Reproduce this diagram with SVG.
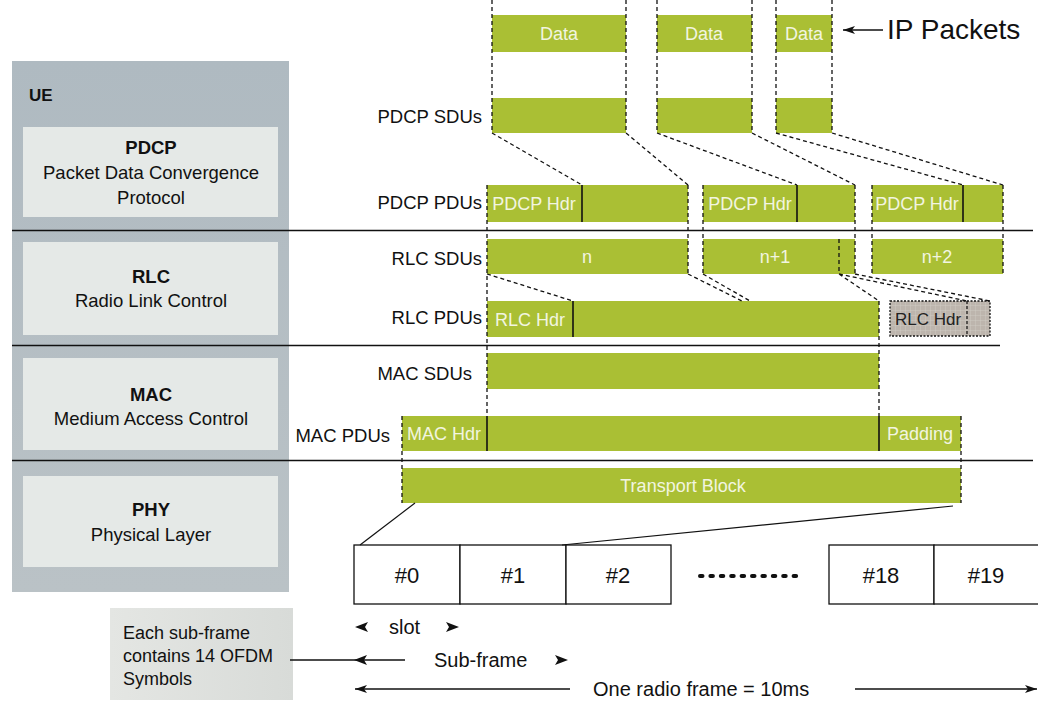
<svg xmlns="http://www.w3.org/2000/svg" width="1038" height="704" viewBox="0 0 1038 704">
<defs>
<linearGradient id="panelGrad" x1="0" y1="0" x2="0" y2="1"><stop offset="0" stop-color="#AFBAC1"/><stop offset="1" stop-color="#BAC2C6"/></linearGradient>
<linearGradient id="noteGrad" x1="0" y1="0" x2="1" y2="0"><stop offset="0" stop-color="#E4E6E3"/><stop offset="1" stop-color="#D8DBD8"/></linearGradient>
<pattern id="grid" width="5" height="5" patternUnits="userSpaceOnUse"><rect width="5" height="5" fill="#BDB5AD"/><path d="M0 0H5M0 0V5" stroke="#D3CDC6" stroke-width="0.8"/></pattern>
<marker id="ah" viewBox="0 0 12 8" refX="12" refY="4" markerWidth="12" markerHeight="8" orient="auto-start-reverse" markerUnits="userSpaceOnUse"><path d="M0,0 L12,4 L0,8 L3,4 z" fill="#111"/></marker>
</defs>
<style>
.g{fill:#AABF34}
.wt{font-family:"Liberation Sans",Arial,sans-serif;font-size:18px;fill:#F2F5E0;text-anchor:middle}
.lbl{font-family:"Liberation Sans",Arial,sans-serif;font-size:18.5px;fill:#111;text-anchor:end}
.ptxt{font-family:"Liberation Sans",Arial,sans-serif;font-size:18.5px;fill:#111;text-anchor:middle}
.pb{font-weight:bold}
.dash{stroke:#111;stroke-width:1.3;stroke-dasharray:4 3;fill:none}
.sep{stroke:#111;stroke-width:1.5}
.div{stroke:#111;stroke-width:1.6}
.inner{fill:#E5E9E7}
.slot{fill:#fff;stroke:#111;stroke-width:1.3}
.stxt{font-family:"Liberation Sans",Arial,sans-serif;font-size:22px;fill:#111;text-anchor:middle}
.btxt{font-family:"Liberation Sans",Arial,sans-serif;font-size:20px;fill:#111}
.arr{stroke:#111;stroke-width:1.3;fill:none}
</style>
<rect width="1038" height="704" fill="#fff"/>

<g id="ue-panel">
<rect x="12" y="61" width="277" height="531" fill="url(#panelGrad)"/>
<text x="29" y="101" font-family="'Liberation Sans',Arial,sans-serif" font-size="17" font-weight="bold" fill="#111">UE</text>
</g>
<g id="pdcp-layer">
<rect class="inner" x="23" y="127" width="255" height="90"/>
<text class="ptxt pb" x="151" y="154">PDCP</text>
<text class="ptxt" x="151" y="179">Packet Data Convergence</text>
<text class="ptxt" x="151" y="204">Protocol</text>
</g>
<g id="rlc-layer">
<rect class="inner" x="23" y="242" width="255" height="93"/>
<text class="ptxt pb" x="151" y="283">RLC</text>
<text class="ptxt" x="151" y="307">Radio Link Control</text>
</g>
<g id="mac-layer">
<rect class="inner" x="23" y="358" width="255" height="92"/>
<text class="ptxt pb" x="151" y="401">MAC</text>
<text class="ptxt" x="151" y="425">Medium Access Control</text>
</g>
<g id="phy-layer">
<rect class="inner" x="23" y="476" width="255" height="91"/>
<text class="ptxt pb" x="151" y="516">PHY</text>
<text class="ptxt" x="151" y="541">Physical Layer</text>
</g>

<g id="layer-separators">
<line class="sep" x1="12" y1="230.5" x2="1033" y2="230.5"/>
<line class="sep" x1="12" y1="345.5" x2="1000" y2="345.5"/>
<line class="sep" x1="12" y1="460.5" x2="1033" y2="460.5"/>
</g>

<g id="ip-packets">
<rect class="g" x="492" y="15" width="134" height="37"/>
<rect class="g" x="657" y="15" width="95" height="37"/>
<rect class="g" x="776" y="15" width="56" height="37"/>
<text class="wt" x="559" y="40">Data</text>
<text class="wt" x="704" y="40">Data</text>
<text class="wt" x="804" y="40">Data</text>
<line class="arr" x1="883" y1="30" x2="843" y2="30" marker-end="url(#ah)"/>
<text x="887" y="39" font-family="'Liberation Sans',Arial,sans-serif" font-size="28" fill="#111">IP Packets</text>
</g>

<g id="pdcp-sdus">
<text class="lbl" x="482" y="123">PDCP SDUs</text>
<rect class="g" x="492" y="98" width="134" height="35"/>
<rect class="g" x="657" y="98" width="95" height="35"/>
<rect class="g" x="776" y="98" width="56" height="35"/>
</g>

<g id="pdcp-pdus">
<text class="lbl" x="482" y="209">PDCP PDUs</text>
<rect class="g" x="487" y="185" width="201" height="37"/>
<rect class="g" x="703" y="185" width="152" height="37"/>
<rect class="g" x="872" y="185" width="131" height="37"/>
<line class="div" x1="582" y1="185" x2="582" y2="222"/>
<line class="div" x1="797" y1="185" x2="797" y2="222"/>
<line class="div" x1="963" y1="185" x2="963" y2="222"/>
<text class="wt" x="534" y="210" font-size="17.5">PDCP Hdr</text>
<text class="wt" x="750" y="210" font-size="17.5">PDCP Hdr</text>
<text class="wt" x="917" y="210" font-size="17.5">PDCP Hdr</text>
</g>

<g id="rlc-sdus">
<text class="lbl" x="482" y="265">RLC SDUs</text>
<rect class="g" x="487" y="239" width="201" height="35"/>
<rect class="g" x="703" y="239" width="152" height="35"/>
<rect class="g" x="872" y="239" width="131" height="35"/>
<text class="wt" x="587" y="263">n</text>
<text class="wt" x="775" y="263">n+1</text>
<text class="wt" x="937" y="263">n+2</text>
</g>

<g id="rlc-pdus">
<text class="lbl" x="482" y="324">RLC PDUs</text>
<rect class="g" x="487" y="301" width="392" height="36"/>
<line class="div" x1="573" y1="301" x2="573" y2="337"/>
<text class="wt" x="530" y="326">RLC Hdr</text>
</g>

<g id="rlc-hdr-next">
<rect x="890" y="301" width="100" height="35" fill="url(#grid)" stroke="#111" stroke-width="1.3" stroke-dasharray="2 1.5"/>
<line x1="967" y1="301" x2="967" y2="336" stroke="#111" stroke-width="1.2" stroke-dasharray="3 2"/>
<text x="928" y="325" font-family="'Liberation Sans',Arial,sans-serif" font-size="17" fill="#222" text-anchor="middle">RLC Hdr</text>
</g>

<g id="mac-sdus">
<text class="lbl" x="472" y="380">MAC SDUs</text>
<rect class="g" x="487" y="353" width="392" height="36"/>
</g>

<g id="mac-pdus">
<text class="lbl" x="390" y="442">MAC PDUs</text>
<rect class="g" x="402" y="416" width="559" height="35"/>
<line class="div" x1="487" y1="416" x2="487" y2="451"/>
<line class="div" x1="879" y1="416" x2="879" y2="451"/>
<text class="wt" x="444" y="440">MAC Hdr</text>
<text class="wt" x="920" y="440">Padding</text>
</g>

<g id="transport-block">
<rect class="g" x="402" y="468" width="559" height="35"/>
<text class="wt" x="683" y="492">Transport Block</text>
</g>

<g id="slots">
<rect class="slot" x="354" y="545" width="106" height="59"/>
<rect class="slot" x="460" y="545" width="106" height="59"/>
<rect class="slot" x="566" y="545" width="105" height="59"/>
<rect class="slot" x="829" y="545" width="105" height="59"/>
<rect class="slot" x="934" y="545" width="110" height="59"/>
<text class="stxt" x="407" y="583">#0</text>
<text class="stxt" x="513" y="583">#1</text>
<text class="stxt" x="618" y="583">#2</text>
<text class="stxt" x="881" y="583">#18</text>
<text class="stxt" x="986" y="583">#19</text>
<line x1="700" y1="576" x2="802" y2="576" stroke="#111" stroke-width="4" stroke-linecap="round" stroke-dasharray="2.5 7.9"/>
</g>

<g id="note">
<rect x="110" y="608" width="183" height="92" fill="url(#noteGrad)"/>
<text font-family="'Liberation Sans',Arial,sans-serif" font-size="18" fill="#111"><tspan x="123" y="639">Each sub-frame</tspan><tspan x="123" y="662">contains 14 OFDM</tspan><tspan x="123" y="685">Symbols</tspan></text>
</g>

<g id="connectors">
<path class="dash" d="M492 0V133M626 0V133M657 0V133M752 0V133M776 0V133M832 0V133"/>
<path class="dash" d="M492 133L582 185M626 133L688 185M657 133L797 185M752 133L855 185M776 133L963 185M832 133L1003 185"/>
<path class="dash" d="M487 185V416M688 185V274M703 185V274M855 185V274M872 185V274M1003 185V274M839 239V274"/>
<path class="dash" d="M487 274L573 301M688 274L742 301M703 274L750 301M839 274L879 301M839 274L967 301M855 274L990 301"/>
<path class="dash" d="M879 301V416"/>
<path class="dash" d="M402 416V503M961 416V503"/>
<line x1="415" y1="503" x2="360" y2="545" stroke="#111" stroke-width="1.2"/>
<line x1="953" y1="506" x2="562" y2="545" stroke="#111" stroke-width="1.2"/>
<polygon points="355,627 368,622 365,627 368,632" fill="#111"/>
<text class="btxt" x="389" y="634">slot</text>
<polygon points="459,627 446,622 449,627 446,632" fill="#111"/>
<line class="arr" x1="290" y1="660" x2="405" y2="660"/>
<polygon points="354,660 367,655 364,660 367,665" fill="#111"/>
<text class="btxt" x="434" y="667">Sub-frame</text>
<polygon points="568,660 555,655 558,660 555,665" fill="#111"/>
<line class="arr" x1="570" y1="689" x2="355" y2="689" marker-end="url(#ah)"/>
<text class="btxt" x="593" y="696">One radio frame = 10ms</text>
<line class="arr" x1="855" y1="689" x2="1037" y2="689" marker-end="url(#ah)"/>
</g>
</svg>
